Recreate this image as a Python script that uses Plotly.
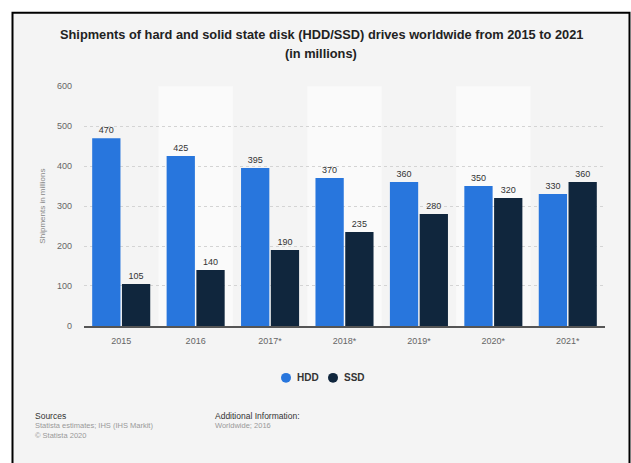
import plotly.graph_objects as go

years = ["2015", "2016", "2017*", "2018*", "2019*", "2020*", "2021*"]
hdd = [470, 425, 395, 370, 360, 350, 330]
ssd = [105, 140, 190, 235, 280, 320, 360]
y_ticks = [0, 100, 200, 300, 400, 500, 600]
series_names = ["HDD", "SSD"]

W, H = 631, 463
FONT = "Liberation Sans, Arial, Helvetica, sans-serif"
HDD_C = "#2876dd"
SSD_C = "#10263d"

def px(x):
    return x / W

def py(y):
    return 1 - y / H

fig = go.Figure()
for name, vals, col in ((series_names[0], hdd, HDD_C), (series_names[1], ssd, SSD_C)):
    fig.add_trace(go.Bar(x=years, y=vals, name=name, marker=dict(color=col, line=dict(width=0)),
                         text=vals, textposition="outside", cliponaxis=False,
                         textfont=dict(size=9, color="#333", family=FONT), showlegend=False))

shapes = [
    dict(type="rect", xref="paper", yref="paper", x0=px(12.5), x1=px(629.5), y0=-0.1, y1=py(8),
         fillcolor="#f4f4f4", line=dict(color="#000", width=2), layer="below"),
]
for i in (1, 3, 5):
    shapes.append(dict(type="rect", xref="x", yref="paper", x0=i - 0.5, x1=i + 0.5,
                       y0=py(328), y1=py(83), fillcolor="#fafafa", line=dict(width=0), layer="below"))

# legend circles
for cx, col in ((286, HDD_C), (333, SSD_C)):
    shapes.append(dict(type="circle", xref="paper", yref="paper",
                       x0=px(cx - 5), x1=px(cx + 5), y0=py(381 + 5), y1=py(381 - 5),
                       fillcolor=col, line=dict(width=0)))

def ann(text, x, y, size, color, anchor="left"):
    return dict(text=text, xref="paper", yref="paper", x=px(x), y=py(y), xanchor=anchor,
                yanchor="middle", showarrow=False, font=dict(size=size, color=color, family=FONT))

annotations = [
    ann("<b>Shipments of hard and solid state disk (HDD/SSD) drives worldwide from 2015 to 2021</b>",
        321, 30, 12.8, "#222", "center"),
    ann("<b>(in millions)</b>", 321, 50, 12.8, "#222", "center"),
    ann("<b>" + series_names[0] + "</b>", 295, 381, 10, "#333"),
    ann("<b>" + series_names[1] + "</b>", 342, 381, 10, "#333"),
    ann("Sources", 33, 420, 8.5, "#333"),
    ann("Statista estimates; IHS (IHS Markit)", 33, 430, 7.5, "#999"),
    ann("© Statista 2020", 33, 440, 7.5, "#999"),
    ann("Additional Information:", 213, 420, 8.5, "#333"),
    ann("Worldwide; 2016", 213, 430, 7.5, "#999"),
]

fig.update_layout(
    width=W, height=H,
    margin=dict(l=0, r=0, t=0, b=0),
    paper_bgcolor="white", plot_bgcolor="rgba(0,0,0,0)",
    barmode="group", bargap=0.2, bargroupgap=0.05,
    shapes=shapes, annotations=annotations, showlegend=False,
    xaxis=dict(domain=[px(84), px(605)], showgrid=False, showline=True, linecolor="#555", linewidth=1.5,
               tickfont=dict(size=9, color="#666", family=FONT), ticks="", ticklabelstandoff=6,
               fixedrange=True),
    yaxis=dict(domain=[py(328), py(83)], range=[0, 600], tickvals=y_ticks,
               showgrid=True, gridcolor="#d4d4d4", griddash="dot", gridwidth=1, zeroline=False,
               tickfont=dict(size=9, color="#666", family=FONT), ticklabelstandoff=11,
               title=dict(text="Shipments in millions", font=dict(size=8, color="#888", family=FONT), standoff=10)),
)

fig.write_html("out.html", config={"displayModeBar": False},
               post_script="document.body.style.margin='0';"
                           "document.body.style.overflow='hidden';"
                           "document.documentElement.style.overflow='hidden';")
